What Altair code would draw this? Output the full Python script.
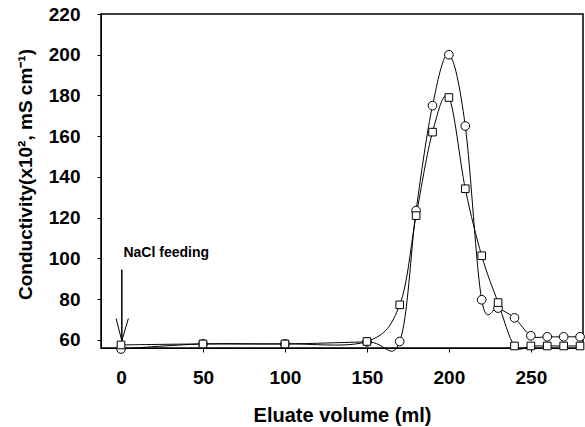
import altair as alt
import pandas as pd

volume = [0, 50, 100, 150, 170, 180, 190, 200, 210, 220, 230, 240, 250, 260, 270, 280]
circle_vals = [55.5, 58, 58, 59, 59.2, 123.5, 175, 200, 165, 79.7, 75.6, 70.8, 62, 61.5, 61.5, 61.5]
square_vals = [57.5, 58, 58, 59.2, 77.2, 121, 162, 179, 134.2, 101.3, 78.3, 57, 57, 57, 57, 57]

x_ticks = [0, 50, 100, 150, 200, 250]
y_ticks = [60, 80, 100, 120, 140, 160, 180, 200, 220]

note_text = ["NaCl feeding"]
note_x = [1.5]
note_y = [100.5]
arrow_x = [0.5]
arrow_top = [94.5]
arrow_tip = [59.5]
head_x = [-3, 4.5]
head_y = [70.5, 70.5]

FONT = "Liberation Sans"

circ = pd.DataFrame({"v": volume, "c": circle_vals})
sq = pd.DataFrame({"v": volume, "c": square_vals})

xs = alt.Scale(domain=[-12.2, 281.8], nice=False, zero=False)
ys = alt.Scale(domain=[56, 220], nice=False, zero=False)

xax = alt.Axis(values=x_ticks, title="Eluate volume (ml)", grid=False, tickSize=4,
               labelFontSize=19, labelFont=FONT, labelFontWeight="bold", labelPadding=16,
               titleFontSize=20, titleFont=FONT, titleFontWeight="bold", titlePadding=18,
               domainColor="black", tickColor="black", labelColor="black", titleColor="black")
yax = alt.Axis(values=y_ticks, title="Conductivity(x10², mS cm⁻¹)", grid=False, tickSize=4,
               labelFontSize=19, labelFont=FONT, labelFontWeight="bold", labelPadding=17,
               titleFontSize=19, titleFont=FONT, titleFontWeight="bold", titlePadding=13,
               titleY=160,
               domainColor="black", tickColor="black", labelColor="black", titleColor="black")

X = alt.X("v:Q", scale=xs, axis=xax)
Y = alt.Y("c:Q", scale=ys, axis=yax)

line_c = alt.Chart(circ).mark_line(color="black", strokeWidth=1, interpolate="cardinal").encode(x=X, y=Y)
line_s = alt.Chart(sq).mark_line(color="black", strokeWidth=1, interpolate="cardinal").encode(x=X, y=Y)
pt_c = alt.Chart(circ).mark_point(shape="circle", size=75, filled=True, fill="white",
                                  stroke="black", strokeWidth=1, opacity=1).encode(x=X, y=Y)
pt_s = alt.Chart(sq).mark_point(shape="square", size=58, filled=True, fill="white",
                                stroke="black", strokeWidth=1, opacity=1).encode(x=X, y=Y)

arrow_df = pd.DataFrame({"x": arrow_x, "y": arrow_top, "y2": arrow_tip})
arrow = alt.Chart(arrow_df).mark_rule(color="black", strokeWidth=1.5).encode(
    x=alt.X("x:Q", scale=xs), y=alt.Y("y:Q", scale=ys), y2="y2:Q")

head_df = pd.DataFrame({"x": head_x, "y": head_y, "x2": arrow_x * 2, "y2": arrow_tip * 2})
head = alt.Chart(head_df).mark_rule(color="black", strokeWidth=1).encode(
    x=alt.X("x:Q", scale=xs), y=alt.Y("y:Q", scale=ys), x2="x2:Q", y2="y2:Q")

note_df = pd.DataFrame({"t": note_text, "x": note_x, "y": note_y})
note = alt.Chart(note_df).mark_text(align="left", baseline="alphabetic", font=FONT,
                                    fontWeight="bold", fontSize=14, color="black").encode(
    x=alt.X("x:Q", scale=xs), y=alt.Y("y:Q", scale=ys), text="t:N")

chart = alt.layer(line_c, line_s, arrow, head, pt_c, pt_s, note).properties(
    width=482, height=334,
    padding={"left": 101, "top": 14, "right": 2, "bottom": 79},
    autosize=alt.AutoSizeParams(type="none"),
    background="white",
).configure_view(stroke="black", strokeWidth=1.5)

chart.save("out.html", embed_options={"renderer": "svg", "actions": False})
